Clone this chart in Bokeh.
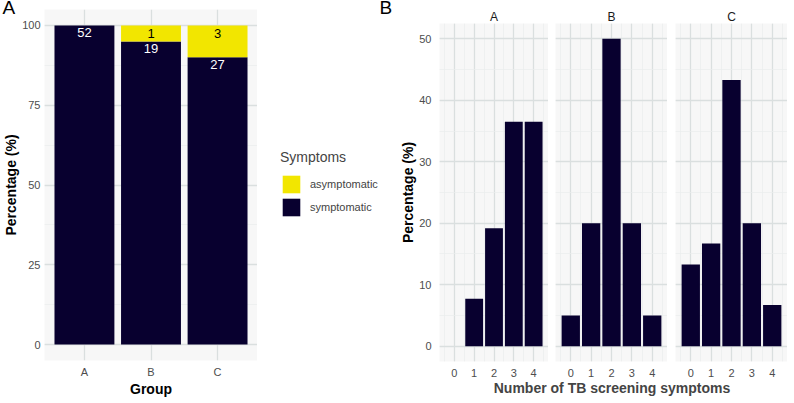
from bokeh.plotting import figure
from bokeh.models import (Range1d, FactorRange, SingleIntervalTicker, Legend, LegendItem,
                          Label, Title, ColumnDataSource)
from bokeh.layouts import row, column
from bokeh.embed import file_html
from bokeh.resources import INLINE
from bokeh.core.properties import value

# ---------------- data ----------------
groups = ["A", "B", "C"]
symptomatic_n = [52, 19, 27]
asymptomatic_n = [0, 1, 3]
symptomatic_pct = [100.0, 95.0, 90.0]
asymptomatic_pct = [0.0, 5.0, 10.0]

n_symptoms = [0, 1, 2, 3, 4]
pct_A = [0.0, 7.7, 19.2, 36.5, 36.5]
pct_B = [5.0, 20.0, 50.0, 20.0, 5.0]
pct_C = [13.3, 16.7, 43.3, 20.0, 6.7]
facet_names = ["A", "B", "C"]

# ---------------- style ----------------
DARK = "#08002F"
YELLOW = "#F2E600"
PANEL_BG = "#F7F7F7"
GRID_MAJOR = "#DADFDF"
GRID_MINOR = "#E9ECEC"
FONT = "Liberation Sans"


def style(p):
    p.background_fill_color = PANEL_BG
    p.border_fill_color = "white"
    p.outline_line_color = None
    p.xgrid.grid_line_color = GRID_MAJOR
    p.ygrid.grid_line_color = GRID_MAJOR
    p.xgrid.grid_line_width = 1.3
    p.ygrid.grid_line_width = 1.3
    p.ygrid.minor_grid_line_color = GRID_MINOR
    p.ygrid.minor_grid_line_width = 0.7
    for ax in p.xaxis + p.yaxis:
        ax.axis_line_color = None
        ax.major_tick_line_color = None
        ax.minor_tick_line_color = None
        ax.major_tick_out = 0
        ax.minor_tick_out = 0
        ax.major_tick_in = 0
        ax.minor_tick_in = 0
        ax.major_label_text_font = FONT
        ax.major_label_text_font_size = "11px"
        ax.major_label_text_color = "#4D4D4D"
        ax.axis_label_text_font = FONT
        ax.axis_label_text_font_size = "14px"
        ax.axis_label_text_font_style = "bold"
        ax.axis_label_text_color = "black"
        ax.major_label_standoff = 7
        ax.axis_label_standoff = 3


# ---------------- panel A ----------------
p1 = figure(width=257, height=400,
            x_range=FactorRange(*groups, range_padding=0.1, range_padding_units="absolute"),
            y_range=Range1d(-5, 105), toolbar_location=None, output_backend="svg",
            min_border_left=44, min_border_right=0, min_border_top=9, min_border_bottom=40)
style(p1)
p1.title = Title(text="A", align="left", offset=-48, standoff=-33, vertical_align="top",
                 padding=6, text_font=FONT, text_font_size="19px", text_font_style="normal",
                 text_color="black")
p1.yaxis.ticker = SingleIntervalTicker(interval=25, num_minor_ticks=2)
p1.ygrid.ticker = SingleIntervalTicker(interval=25, num_minor_ticks=2)
p1.xaxis.axis_label = "Group"
p1.yaxis.axis_label = "Percentage (%)"
p1.yaxis.major_label_standoff = 4
p1.yaxis.axis_label_standoff = 0
p1.xaxis.major_label_standoff = 5
p1.xaxis.axis_label_standoff = 0

src = ColumnDataSource(dict(group=groups, symptomatic=symptomatic_pct,
                            asymptomatic=asymptomatic_pct))
rs = p1.vbar_stack(["symptomatic", "asymptomatic"], x="group", width=0.9, source=src,
                   fill_color=[DARK, YELLOW], line_color=None)

sym_lab = ColumnDataSource(dict(x=groups, y=symptomatic_pct, t=[str(v) for v in symptomatic_n]))
p1.text(x="x", y="y", text="t", source=sym_lab, text_color="white", text_align="center",
        text_baseline="middle", y_offset=7, text_font=value(FONT), text_font_size="13px")
asym_x = [g for g, a in zip(groups, asymptomatic_n) if a > 0]
asym_y = [s + a for s, a, n in zip(symptomatic_pct, asymptomatic_pct, asymptomatic_n) if n > 0]
asym_t = [str(n) for n in asymptomatic_n if n > 0]
asym_lab = ColumnDataSource(dict(x=asym_x, y=asym_y, t=asym_t))
p1.text(x="x", y="y", text="t", source=asym_lab, text_color="black", text_align="center",
        text_baseline="middle", y_offset=8, text_font=value(FONT), text_font_size="13px")

# ---------------- legend + panel letter B (own canvas) ----------------
pl = figure(width=140, height=400, toolbar_location=None, output_backend="svg",
            x_range=p1.x_range, y_range=p1.y_range, min_border=0,
            x_axis_location=None, y_axis_location=None)
pl.grid.visible = False
pl.outline_line_color = None
pl.background_fill_color = "white"
pl.border_fill_color = "white"
pl.title = Title(text="B", align="left", offset=120, standoff=-25, vertical_align="top",
                 padding=2, text_font=FONT, text_font_size="19px", text_font_style="normal",
                 text_color="black")
proxies = pl.vbar_stack(["symptomatic", "asymptomatic"], x="group", width=0.9, source=src,
                        fill_color=[DARK, YELLOW], line_color=None)
for r in proxies:
    r.visible = False
legend = Legend(items=[LegendItem(label="asymptomatic", renderers=[proxies[1]]),
                       LegendItem(label="symptomatic", renderers=[proxies[0]])],
                title="Symptoms", location=(23, 142), margin=0, padding=0,
                glyph_width=22, glyph_height=22, spacing=1, label_standoff=8,
                border_line_color=None, background_fill_alpha=0,
                inactive_fill_alpha=0, click_policy="none",
                title_text_font=FONT, title_text_font_size="14px", title_text_font_style="normal",
                title_standoff=8, label_text_font=FONT, label_text_font_size="11px")
pl.add_layout(legend)

# ---------------- panel B (facets) ----------------
xr = Range1d(-0.75, 4.75)
yr = Range1d(-2.5, 52.5)
facet_data = [pct_A, pct_B, pct_C]
widths = [151, 119, 120]
lefts = [40, 7, 8]
facets = []
for i, (name, pct) in enumerate(zip(facet_names, facet_data)):
    p = figure(width=widths[i], height=380, x_range=xr, y_range=yr, title=name,
               toolbar_location=None, output_backend="svg",
               min_border_left=lefts[i], min_border_right=0, min_border_top=23,
               min_border_bottom=19)
    style(p)
    xt = SingleIntervalTicker(interval=1, num_minor_ticks=2)
    yt = SingleIntervalTicker(interval=10, num_minor_ticks=2)
    p.xaxis.ticker = xt
    p.xgrid.ticker = xt
    p.yaxis.ticker = yt
    p.ygrid.ticker = yt
    p.xgrid.minor_grid_line_color = GRID_MINOR
    p.xgrid.minor_grid_line_width = 0.7
    p.title.text_font = FONT
    p.title.text_font_size = "12px"
    p.title.text_font_style = "normal"
    p.title.text_color = "#1A1A1A"
    p.title.align = "center"
    p.title.standoff = 0
    xs = [x for x, v in zip(n_symptoms, pct) if v > 0]
    tops = [v for v in pct if v > 0]
    p.vbar(x=xs, top=tops, width=0.9, fill_color=DARK, line_color=None)
    if i == 0:
        p.yaxis.axis_label = "Percentage (%)"
        p.yaxis.axis_label_standoff = 0
        p.yaxis.major_label_standoff = 8
    else:
        p.yaxis.visible = False
    facets.append(p)

ft = figure(width=390, height=20, toolbar_location=None, output_backend="svg",
            x_range=Range1d(0, 1), y_range=Range1d(0, 1), min_border=0,
            x_axis_location=None, y_axis_location=None)
ft.grid.visible = False
ft.outline_line_color = None
ft.background_fill_color = "white"
ft.add_layout(Label(x=214.5, y=13, x_units="screen", y_units="screen",
                    text="Number of TB screening symptoms", text_align="center",
                    text_baseline="middle", text_font=FONT, text_font_size="14px",
                    text_font_style="bold"))

layout = row(p1, pl, column(row(*facets), ft))
open("out.html", "w").write(file_html(layout, INLINE))
